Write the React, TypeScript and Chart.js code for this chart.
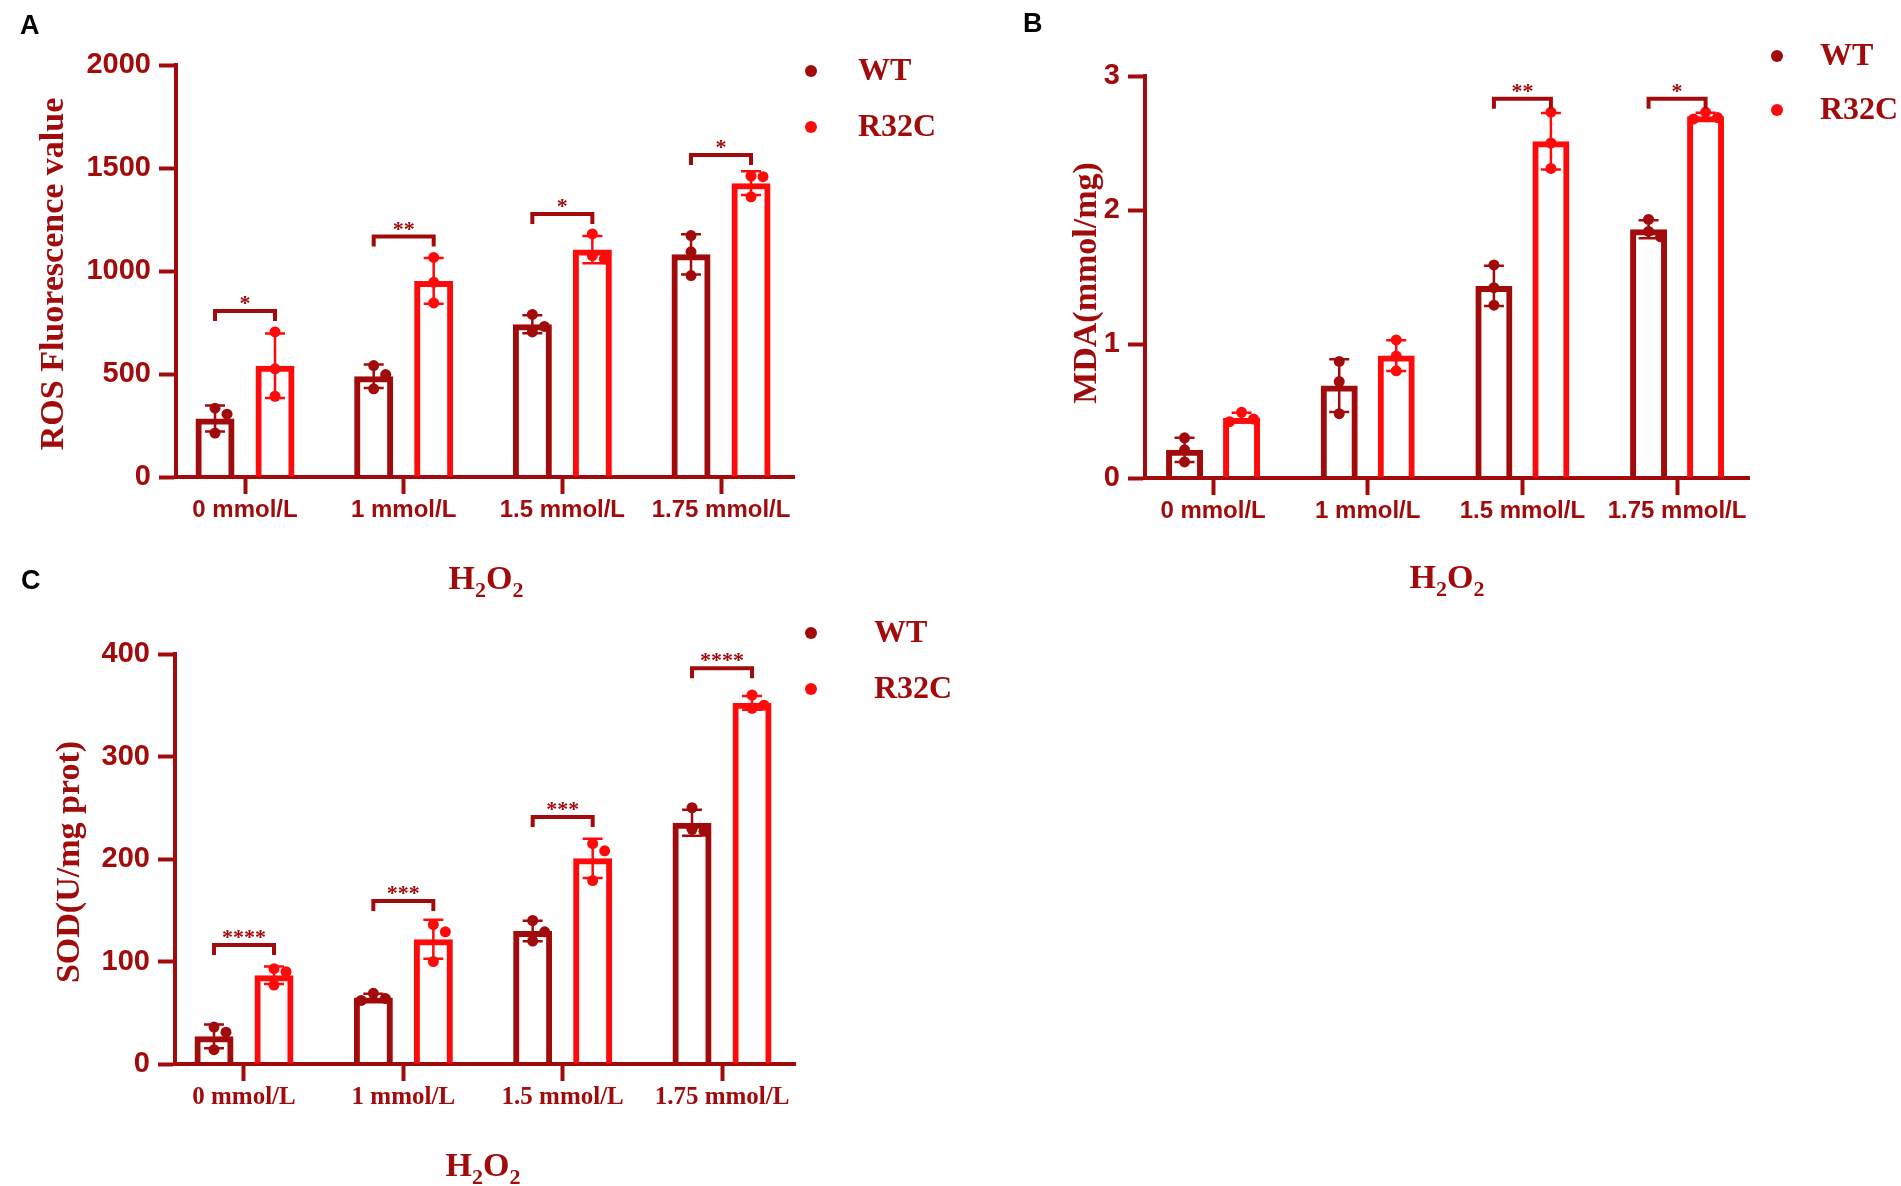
import { useEffect, useRef } from 'react';
import { Chart, registerables } from 'chart.js';

Chart.register(...registerables);

// ---- data ----
const doses = ['0 mmol/L', '1 mmol/L', '1.5 mmol/L', '1.75 mmol/L'];
const groupNames = ['WT', 'R32C'];

// A: ROS fluorescence, three replicates per dose
const rosWT = [[334, 305, 213], [541, 497, 428], [789, 731, 704], [1172, 1093, 978]];
const rosR32C = [[704, 525, 392], [1066, 945, 845], [1180, 1075, 1057], [1461, 1458, 1360]];
const rosTicks = [0, 500, 1000, 1500, 2000];
const rosStars = ['*', '**', '*', '*'];
const rosBracket = [806, 1167, 1277, 1563];

// B: MDA
const mdaWT = [[0.3, 0.21, 0.12], [0.87, 0.72, 0.48], [1.59, 1.42, 1.29], [1.93, 1.84, 1.8]];
const mdaR32C = [[0.49, 0.44, 0.42], [1.03, 0.91, 0.8], [2.73, 2.5, 2.31], [2.73, 2.69, 2.68]];
const mdaTicks = [0, 1, 2, 3];
const mdaStars = ['', '', '**', '*'];
const mdaBracket = [null, null, 2.83, 2.83];

// C: SOD
const sodWT = [[36, 31, 14], [69, 64, 62], [140, 129, 120], [250, 229, 227]];
const sodR32C = [[93, 90, 77], [136, 129, 100], [215, 208, 179], [360, 350, 347]];
const sodTicks = [0, 100, 200, 300, 400];
const sodStars = ['****', '***', '***', '****'];
const sodBracket = [116, 159, 241, 386];

// ---- styles ----
const DARK = '#A20B0B';
const RED = '#FF0A0A';
const SANS = "'Liberation Sans', Arial, sans-serif";
const SERIF = "'Liberation Serif', 'Times New Roman', serif";
const PT_R = 5.5;

type PanelCfg = {
  letter: string;
  left: number; top: number; W: number; H: number;
  chartLeft: number; chartTop: number; chartBottom: number; chartRight: number;
  xMin: number; xMax: number;
  yTicks: number[];
  wt: number[][]; r32c: number[][];
  stars: string[]; bracket: (number | null)[];
  yTitle: string; yTitleX: number; yTitleY: number;
  letterX: number; letterY: number;
  dotX: number; legendTextX: number; legendY: number[];
  xTitleX: number; xTitleY: number;
  barOffset: number; barWidth: number;
  catFamily: string; catSize: number;
};

const panels: PanelCfg[] = [
  {
    letter: 'A', left: 0, top: 0, W: 950, H: 600,
    chartLeft: 176, chartTop: 65, chartBottom: 477, chartRight: 794,
    xMin: -0.435, xMax: 3.46, yTicks: rosTicks,
    wt: rosWT, r32c: rosR32C, stars: rosStars, bracket: rosBracket,
    yTitle: 'ROS Fluorescence value', yTitleX: 54, yTitleY: 274,
    letterX: 20, letterY: 27,
    dotX: 811, legendTextX: 858, legendY: [71, 127],
    xTitleX: 486, xTitleY: 578,
    barOffset: 30, barWidth: 39,
    catFamily: SANS, catSize: 24,
  },
  {
    letter: 'B', left: 950, top: 0, W: 951, H: 600,
    chartLeft: 195, chartTop: 76, chartBottom: 478, chartRight: 799,
    xMin: -0.44, xMax: 3.465, yTicks: mdaTicks,
    wt: mdaWT, r32c: mdaR32C, stars: mdaStars, bracket: mdaBracket,
    yTitle: 'MDA(mmol/mg)', yTitleX: 137, yTitleY: 283,
    letterX: 73, letterY: 25,
    dotX: 827, legendTextX: 870, legendY: [56, 110],
    xTitleX: 497, xTitleY: 577,
    barOffset: 28.5, barWidth: 37,
    catFamily: SANS, catSize: 24,
  },
  {
    letter: 'C', left: 0, top: 560, W: 1000, H: 626,
    chartLeft: 175, chartTop: 94, chartBottom: 504, chartRight: 795,
    xMin: -0.433, xMax: 3.458, yTicks: sodTicks,
    wt: sodWT, r32c: sodR32C, stars: sodStars, bracket: sodBracket,
    yTitle: 'SOD(U/mg prot)', yTitleX: 70, yTitleY: 302,
    letterX: 21, letterY: 22,
    dotX: 811, legendTextX: 874, legendY: [73, 129],
    xTitleX: 483, xTitleY: 605,
    barOffset: 30, barWidth: 39,
    catFamily: SERIF, catSize: 25,
  },
];

const mean = (a: number[]) => a.reduce((s, v) => s + v, 0) / a.length;
const sd = (a: number[]) => {
  const m = mean(a);
  return Math.sqrt(a.reduce((s, v) => s + (v - m) * (v - m), 0) / (a.length - 1));
};

// push overlapping dots sideways, like a scatter-dot plot does
function spread(vals: number[], pxPerUnit: number): number[] {
  const d = 2 * PT_R + 1;
  const placed: { y: number; dx: number }[] = [];
  return vals.map((v) => {
    const y = v * pxPerUnit;
    let dx = 0;
    for (const c of [0, d, -d, 2 * d]) {
      if (placed.every((p) => Math.hypot(p.y - y, p.dx - c) >= d)) {
        dx = c;
        break;
      }
    }
    placed.push({ y, dx });
    return dx;
  });
}

function PanelChart({ p }: { p: PanelCfg }) {
  const canvasRef = useRef<HTMLCanvasElement | null>(null);

  useEffect(() => {
    if (!canvasRef.current) return;
    const yMax = p.yTicks[p.yTicks.length - 1];
    const spacing = (p.chartRight - p.chartLeft) / (p.xMax - p.xMin);
    const pxPerUnit = (p.chartBottom - p.chartTop) / yMax;
    const off = p.barOffset / spacing;
    const series = [p.wt, p.r32c];
    const colors = [DARK, RED];

    const pointSets = series.map((s, si) =>
      s.flatMap((vals, i) => {
        const dxs = spread(vals, pxPerUnit);
        return vals.map((v, k) => ({ x: i + (si === 0 ? -off : off) + dxs[k] / spacing, y: v }));
      })
    );

    const decor = {
      id: 'decor',
      afterDatasetDraw(chart: any, args: any) {
        const meta = args.meta;
        if (meta.type !== 'bar') return;
        const si = meta.index; // bar datasets are 0 and 1
        const ctx = chart.ctx;
        const ys = chart.scales.y;
        ctx.save();
        ctx.strokeStyle = colors[si];
        ctx.lineWidth = 2.5;
        meta.data.forEach((el: any, i: number) => {
          const vals = series[si][i];
          const m = mean(vals);
          const s = sd(vals);
          const y1 = ys.getPixelForValue(m + s);
          const y2 = ys.getPixelForValue(m - s);
          ctx.beginPath();
          ctx.moveTo(el.x, y1);
          ctx.lineTo(el.x, y2);
          ctx.moveTo(el.x - 10, y1);
          ctx.lineTo(el.x + 10, y1);
          ctx.moveTo(el.x - 10, y2);
          ctx.lineTo(el.x + 10, y2);
          ctx.stroke();
        });
        ctx.restore();
      },
      afterDraw(chart: any) {
        const ctx = chart.ctx;
        const ys = chart.scales.y;
        const wtBars = chart.getDatasetMeta(0).data;
        const rBars = chart.getDatasetMeta(1).data;
        ctx.save();

        // significance brackets
        p.bracket.forEach((b, i) => {
          if (b == null) return;
          const x1 = wtBars[i].x;
          const x2 = rBars[i].x;
          const y = ys.getPixelForValue(b);
          ctx.strokeStyle = DARK;
          ctx.lineWidth = 4;
          ctx.beginPath();
          ctx.moveTo(x1, y + 10);
          ctx.lineTo(x1, y);
          ctx.lineTo(x2, y);
          ctx.lineTo(x2, y + 10);
          ctx.stroke();
          ctx.fillStyle = DARK;
          ctx.font = `bold 22px ${SERIF}`;
          ctx.textAlign = 'center';
          ctx.textBaseline = 'alphabetic';
          ctx.fillText(p.stars[i], (x1 + x2) / 2, y - 1);
        });

        // legend
        groupNames.forEach((name, i) => {
          ctx.fillStyle = colors[i];
          ctx.beginPath();
          ctx.arc(p.dotX, p.legendY[i], 6, 0, Math.PI * 2);
          ctx.fill();
          ctx.fillStyle = DARK;
          ctx.font = `bold 32px ${SERIF}`;
          ctx.textAlign = 'left';
          ctx.textBaseline = 'middle';
          ctx.fillText(name, p.legendTextX, p.legendY[i] + 1);
        });

        // y title
        ctx.save();
        ctx.translate(p.yTitleX, p.yTitleY);
        ctx.rotate(-Math.PI / 2);
        ctx.fillStyle = DARK;
        ctx.font = `bold 34px ${SERIF}`;
        ctx.textAlign = 'center';
        ctx.textBaseline = 'middle';
        ctx.fillText(p.yTitle, 0, 0);
        ctx.restore();

        // x title H2O2 with subscripts
        const big = `bold 34px ${SERIF}`;
        const small = `bold 22px ${SERIF}`;
        const parts: [string, string, number][] = [
          ['H', big, 0], ['2', small, 8], ['O', big, 0], ['2', small, 8],
        ];
        let total = 0;
        parts.forEach(([t, f]) => {
          ctx.font = f;
          total += ctx.measureText(t).width;
        });
        let x = p.xTitleX - total / 2;
        const base = p.xTitleY + 11;
        ctx.fillStyle = DARK;
        ctx.textAlign = 'left';
        ctx.textBaseline = 'alphabetic';
        parts.forEach(([t, f, dy]) => {
          ctx.font = f;
          ctx.fillText(t, x, base + dy);
          x += ctx.measureText(t).width;
        });

        // panel letter
        ctx.fillStyle = '#000';
        ctx.font = `bold 27px ${SANS}`;
        ctx.textBaseline = 'middle';
        ctx.fillText(p.letter, p.letterX, p.letterY);
        ctx.restore();
      },
    };

    const chart = new Chart(canvasRef.current, {
      type: 'bar',
      data: {
        datasets: [
          ...series.map((s, si) => ({
            type: 'bar' as const,
            label: groupNames[si],
            data: s.map((vals, i) => ({ x: i, y: mean(vals) })),
            backgroundColor: 'rgba(255,255,255,0)',
            borderColor: colors[si],
            borderWidth: 6,
            borderSkipped: 'start' as const,
            categoryPercentage: (4 * p.barOffset) / spacing,
            barPercentage: p.barWidth / (2 * p.barOffset),
            order: 2,
          })),
          ...pointSets.map((pts, si) => ({
            type: 'scatter' as const,
            label: groupNames[si] + ' points',
            data: pts,
            pointRadius: PT_R,
            pointBorderWidth: 0,
            pointBackgroundColor: colors[si],
            backgroundColor: colors[si],
            order: 1,
          })),
        ] as any,
      },
      options: {
        animation: false,
        responsive: false,
        devicePixelRatio: 1,
        layout: {
          padding: { left: 0, top: p.chartTop, right: p.W - p.chartRight, bottom: 0 },
        },
        plugins: { legend: { display: false }, tooltip: { enabled: false } },
        scales: {
          x: {
            type: 'linear',
            min: p.xMin,
            max: p.xMax,
            offset: false,
            afterFit: (s: any) => {
              s.height = p.H - p.chartBottom;
            },
            afterBuildTicks: (s: any) => {
              s.ticks = doses.map((_, i) => ({ value: i }));
            },
            ticks: {
              callback: (v: any) => doses[v as number],
              color: DARK,
              font: { family: p.catFamily, weight: 'bold', size: p.catSize },
              padding: 2,
              maxRotation: 0,
              autoSkip: false,
            },
            grid: {
              offset: false,
              drawOnChartArea: false,
              drawTicks: true,
              tickLength: 17,
              tickWidth: 4,
              tickColor: DARK,
            },
            border: { display: true, color: DARK, width: 4 },
          },
          y: {
            min: 0,
            max: yMax,
            afterFit: (s: any) => {
              s.width = p.chartLeft;
            },
            afterBuildTicks: (s: any) => {
              s.ticks = p.yTicks.map((v) => ({ value: v }));
            },
            ticks: {
              callback: (v: any) => String(v),
              color: DARK,
              font: { family: SANS, weight: 'bold', size: 29 },
              padding: 8,
            },
            grid: {
              drawOnChartArea: false,
              drawTicks: true,
              tickLength: 17,
              tickWidth: 4,
              tickColor: DARK,
            },
            border: { display: true, color: DARK, width: 4 },
          },
        },
      } as any,
      plugins: [decor],
    });

    return () => {
      chart.destroy();
    };
  }, [p]);

  return (
    <canvas
      ref={canvasRef}
      width={p.W}
      height={p.H}
      style={{ position: 'absolute', left: p.left, top: p.top, width: p.W, height: p.H }}
    />
  );
}

export default function App() {
  return (
    <div
      style={{
        position: 'absolute',
        left: 0,
        top: 0,
        width: 1901,
        height: 1186,
        background: '#fff',
        overflow: 'hidden',
      }}
    >
      {panels.map((p) => (
        <PanelChart key={p.letter} p={p} />
      ))}
    </div>
  );
}
